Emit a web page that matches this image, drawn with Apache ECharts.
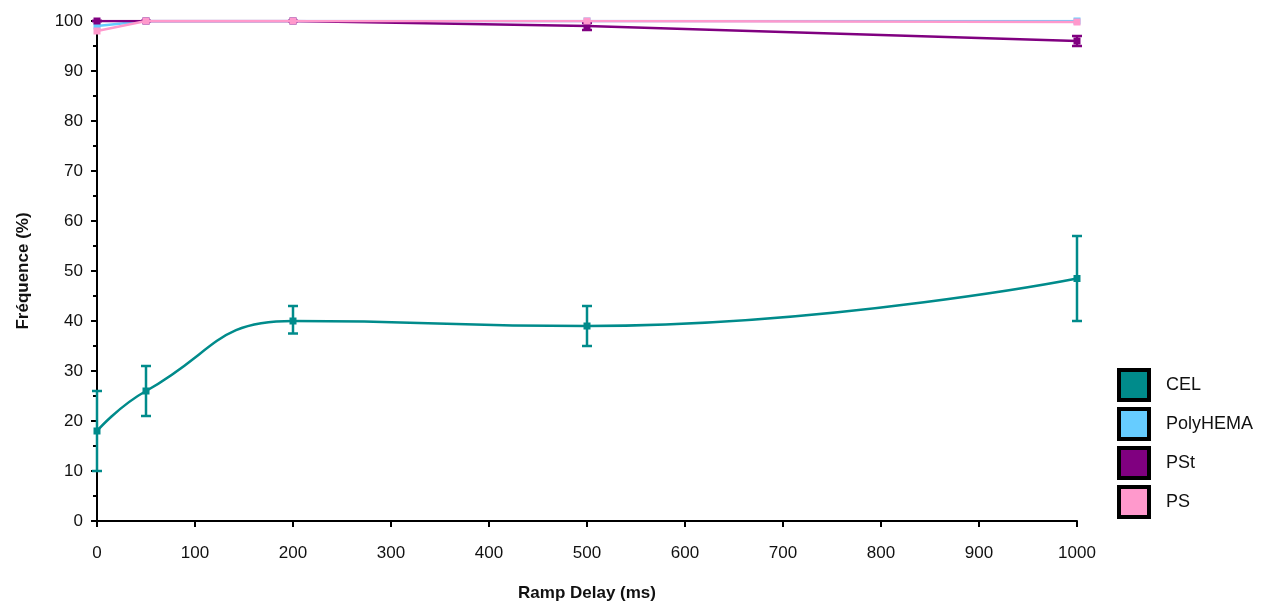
<!DOCTYPE html>
<html><head><meta charset="utf-8">
<script src="https://cdn.jsdelivr.net/npm/echarts@6/dist/echarts.min.js"></script>
<style>html,body{margin:0;padding:0;background:#fff;}#c{width:1287px;height:608px;}</style>
</head><body><div id="c"></div>
<script>
const xValues = [0, 50, 200, 500, 1000];
const celMean = [18, 26, 40, 39, 48.5];
const celLow = [10, 21, 37.5, 35, 40];
const celHigh = [26, 31, 43, 43, 57];
const polyMean = [99, 100, 100, 100, 100];
const pstMean = [100, 100, 100, 99, 96];
const pstLow = [100, 100, 100, 98.2, 95];
const pstHigh = [100, 100, 100, 99.6, 97];
const psMean = [98, 100, 100, 100, 99.8];
const xTicks = [0,100,200,300,400,500,600,700,800,900,1000];
const yTicks = [0,10,20,30,40,50,60,70,80,90,100];

const FONT = 'Liberation Sans, Arial, sans-serif';
const colors = {CEL:'#008B8B', PolyHEMA:'#66CCFF', PSt:'#800080', PS:'#FF99CC'};

function pts(ys){ return xValues.map((x,i)=>[x, ys[i]]); }
function errData(lo, hi){ return xValues.map((x,i)=>[x, lo[i], hi[i]]); }
function errSeries(name, lo, hi, color){
  return {
    type:'custom', name: name+'_err', z:5,
    data: errData(lo, hi),
    renderItem: function(params, api){
      const x = api.value(0);
      const p1 = api.coord([x, api.value(1)]);
      const p2 = api.coord([x, api.value(2)]);
      const w = 5;
      const st = {stroke: color, lineWidth: 2.5};
      return {type:'group', children:[
        {type:'line', shape:{x1:p1[0],y1:p1[1],x2:p2[0],y2:p2[1]}, style:st},
        {type:'line', shape:{x1:p1[0]-w,y1:p1[1],x2:p1[0]+w,y2:p1[1]}, style:st},
        {type:'line', shape:{x1:p2[0]-w,y1:p2[1],x2:p2[0]+w,y2:p2[1]}, style:st}
      ]};
    }
  };
}
function lineSeries(name, ys, smooth, z){
  return {type:'line', name:name, data: pts(ys), smooth: smooth, symbol:'rect', symbolSize:7,
    z:z, lineStyle:{color:colors[name], width:2.5}, itemStyle:{color:colors[name]}};
}

const chart = echarts.init(document.getElementById('c'), null, {renderer:'canvas'});
chart.setOption({
  animation:false,
  backgroundColor:'#fff',
  grid:{left:97, right:210, top:21, bottom:87},
  xAxis:{type:'value', min:0, max:1000, interval:100,
    name:'Ramp Delay (ms)', nameLocation:'middle', nameGap:64,
    nameTextStyle:{fontFamily:FONT, fontSize:17, fontWeight:'bold', color:'#111'},
    axisLine:{lineStyle:{color:'#000', width:2}},
    axisTick:{length:6, lineStyle:{color:'#000', width:2}},
    axisLabel:{fontFamily:FONT, fontSize:17, color:'#111', margin:24,
      formatter: v => String(v)},
    splitLine:{show:false}},
  yAxis:{type:'value', min:0, max:100, interval:10,
    name:'Fréquence (%)', nameLocation:'middle', nameGap:65, nameRotate:90,
    nameTextStyle:{fontFamily:FONT, fontSize:17, fontWeight:'bold', color:'#111'},
    axisLine:{lineStyle:{color:'#000', width:2}},
    axisTick:{length:6, lineStyle:{color:'#000', width:2}},
    minorTick:{show:true, splitNumber:2, length:4, lineStyle:{color:'#000', width:2}},
    axisLabel:{fontFamily:FONT, fontSize:17, color:'#111', margin:14},
    splitLine:{show:false}},
  legend:{orient:'vertical', left:1112, top:363, itemWidth:30, itemHeight:30, itemGap:5,
    icon:'rect', data:['CEL','PolyHEMA','PSt','PS'],
    textStyle:{fontFamily:FONT, fontSize:18, color:'#111', padding:[0,0,0,12]},
    itemStyle:{borderColor:'#000', borderWidth:4}},
  series:[
    lineSeries('CEL', celMean, 0.5, 3),
    errSeries('CEL', celLow, celHigh, colors.CEL),
    lineSeries('PolyHEMA', polyMean, false, 3),
    lineSeries('PSt', pstMean, false, 4),
    errSeries('PSt', pstLow, pstHigh, colors.PSt),
    lineSeries('PS', psMean, false, 5)
  ]
});
</script></body></html>
